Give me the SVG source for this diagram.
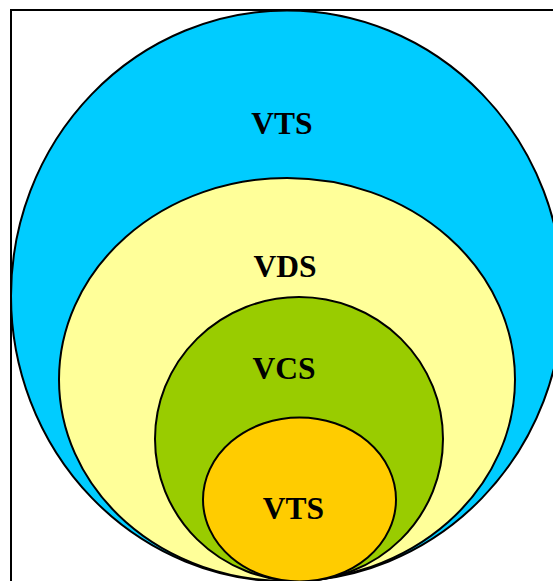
<svg xmlns="http://www.w3.org/2000/svg" width="553" height="581" viewBox="0 0 553 581">
<style>
.e{stroke:#000;stroke-width:2}
.t{font-family:"Liberation Serif","Times New Roman",serif;font-weight:bold;font-size:31.5px;text-anchor:middle;fill:#000}
</style>
<rect x="0" y="0" width="553" height="581" fill="#fff"/>
<rect x="11" y="10" width="560" height="600" fill="none" stroke="#000" stroke-width="2"/>
<g id="vts-outer">
<ellipse class="e" cx="287" cy="296" rx="276" ry="285.5" fill="#00CCFF"/>
<text class="t" x="282" y="134">VTS</text>
</g>
<g id="vds">
<ellipse class="e" cx="287" cy="379.5" rx="228" ry="201.5" fill="#FFFF99"/>
<text class="t" x="285" y="277">VDS</text>
</g>
<g id="vcs">
<ellipse class="e" cx="299" cy="439" rx="144" ry="142" fill="#99CC00"/>
<text class="t" x="284" y="379">VCS</text>
</g>
<g id="vts-inner">
<ellipse class="e" cx="299.5" cy="499.5" rx="96.5" ry="82" fill="#FFCC00"/>
<text class="t" x="293.5" y="519">VTS</text>
</g>
<g id="connectors"/>
</svg>
